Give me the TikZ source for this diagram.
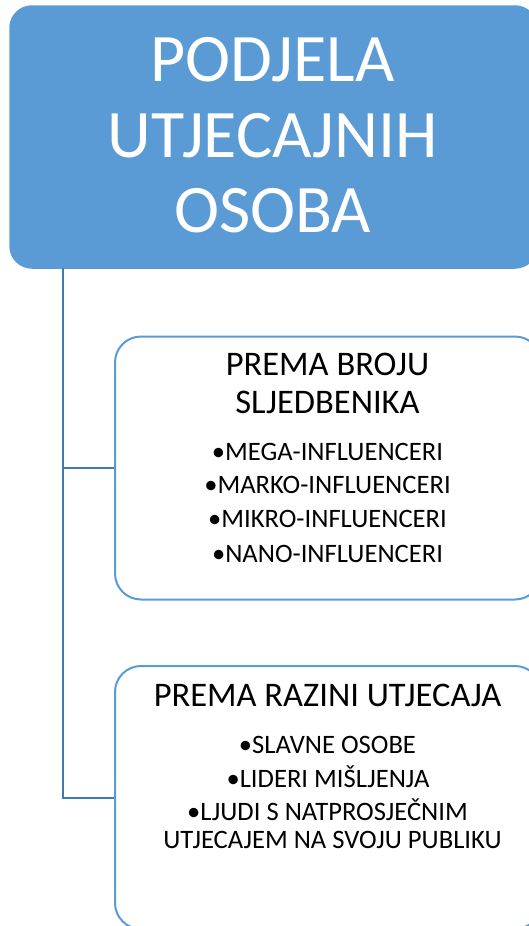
\documentclass[tikz,border=0pt]{standalone}
\usepackage{fontspec}
\setmainfont{Carlito}
\definecolor{accent}{HTML}{5B9BD5}
\definecolor{linkc}{HTML}{4279B3}
\tikzset{
  titlebox/.style={draw=accent, fill=accent, line width=1.5pt, rounded corners=22pt, minimum width=527pt, minimum height=262pt, inner sep=0pt},
  subbox/.style={draw=accent, fill=white, line width=2pt, rounded corners=26pt, minimum width=426pt, minimum height=263pt, inner sep=0pt},
  link/.style={draw=linkc, line width=2pt},
  ttl/.style={anchor=base, inner sep=0pt, text=white, font=\fontsize{68}{76}\selectfont},
  hd/.style={anchor=base, inner sep=0pt, font=\fontsize{34.5}{38}\selectfont},
  bl/.style={anchor=base, inner sep=0pt, font=\fontsize{26.6}{32}\selectfont},
}
\begin{document}
\begin{tikzpicture}[x=1pt, y=-1pt]
\useasboundingbox (0,0) rectangle (529,926);
% boxes
\node[titlebox] (top) at (273.5,137) {};
\node[subbox] (b1) at (328,468) {};
\node[subbox] (b2) at (328,797.5) {};
% connectors
\coordinate (trunk) at (63,268);
\draw[link] (trunk) |- (b1.west);
\draw[link] (trunk) |- (b2.west);
% title text
\node[ttl] (t1) at (272.5,81) {PODJELA};
\node[ttl] (t2) at (272.5,157) {UTJECAJNIH};
\node[ttl] (t3) at (272.5,232) {OSOBA};
% box 1 text
\node[hd] (h1a) at (327.5,375) {PREMA BROJU};
\node[hd] (h1b) at (327.5,413) {SLJEDBENIKA};
\node[bl] (m1) at (327.5,460) {•MEGA-INFLUENCERI};
\node[bl] (m2) at (327.5,493.5) {•MARKO-INFLUENCERI};
\node[bl] (m3) at (327.5,527.5) {•MIKRO-INFLUENCERI};
\node[bl] (m4) at (327.5,562) {•NANO-INFLUENCERI};
% box 2 text
\node[hd] (h2) at (327.5,706) {PREMA RAZINI UTJECAJA};
\node[bl] (s1) at (327.5,753) {•SLAVNE OSOBE};
\node[bl] (s2) at (328,787) {•LIDERI MIŠLJENJA};
\node[bl] (s3) at (327.5,820.5) {•LJUDI S NATPROSJEČNIM};
\node[bl] (s4) at (332.5,848) {UTJECAJEM NA SVOJU PUBLIKU};
\end{tikzpicture}
\end{document}
